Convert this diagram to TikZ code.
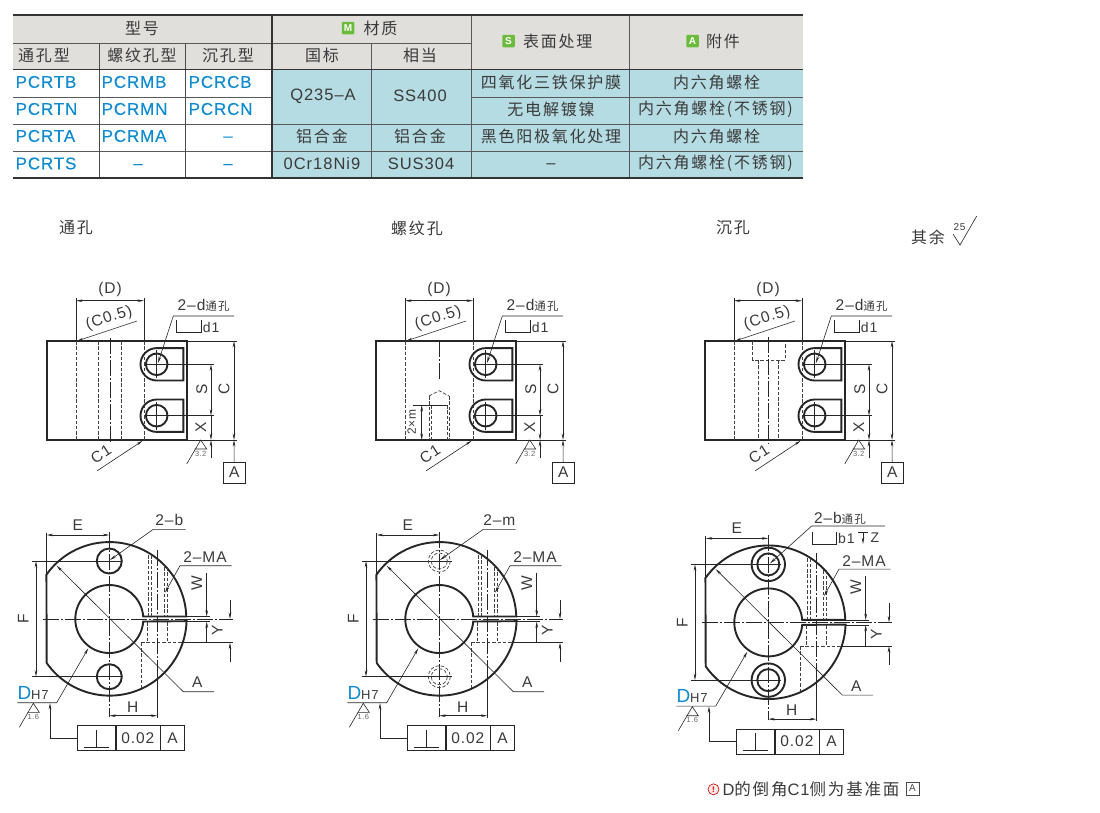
\documentclass[tikz,border=0pt]{standalone}
\usepackage{fontspec}
\usepackage{xcolor}
\setmainfont[LetterSpace=6]{Liberation Sans}
\newfontfamily\cnfont[LetterSpace=11]{Noto Sans CJK SC}
\newfontfamily\partfont[LetterSpace=5,FakeBold=0.25]{Liberation Sans}
\usetikzlibrary{arrows.meta,positioning}
\definecolor{headgray}{HTML}{E0DFDC}
\definecolor{cellteal}{HTML}{B5DCE3}
\definecolor{partblue}{HTML}{0F8BD0}
\definecolor{badgegreen}{HTML}{6CBB3C}
\definecolor{inkgray}{HTML}{3A3A3A}
\tikzstyle{outline} = [line width=1.9pt, draw=black!85]
\tikzstyle{hidden} = [line width=0.7pt, draw=black!75, dash pattern=on 3.5pt off 1.8pt]
\tikzstyle{axis} = [line width=0.55pt, draw=black!85, dash pattern=on 16pt off 2pt on 2pt off 2pt]
\tikzstyle{thinline} = [line width=0.6pt, draw=black!85]
\tikzstyle{dim} = [thinline, {Stealth[length=6.5pt,width=2.6pt]}-{Stealth[length=6.5pt,width=2.6pt]}]
\tikzstyle{arrow} = [thinline, -{Stealth[length=6.5pt,width=2.6pt]}]
\tikzstyle{txt} = [inner sep=0pt, text=inkgray, font=\fontsize{15.5}{15.5}\selectfont]
\tikzstyle{tiny} = [txt, text=black!60, font=\fontsize{7.5}{7.5}\selectfont]
\tikzstyle{cell} = [txt, font=\fontsize{16}{16}\selectfont\cnfont]
\tikzstyle{cellen} = [txt, font=\fontsize{16.5}{16.5}\selectfont]
\tikzstyle{part} = [inner sep=0pt, anchor=west, text=partblue, font=\fontsize{17}{17}\selectfont\partfont]
\tikzstyle{badge} = [inner sep=0pt, minimum size=12.5pt, rounded corners=1pt, fill=badgegreen, text=white, font=\fontsize{10}{10}\selectfont\bfseries]
\tikzstyle{frame} = [txt, draw=black!85, line width=0.6pt, minimum height=25pt]
\newcommand{\cnsmall}[1]{{\fontsize{11.5}{11.5}\cnfont #1}}
% roughness mark, apex at #1,#2
\newcommand{\roughmark}[3]{
  \draw[thinline] (#1-14,#2+24) -- (#1,#2) -- (#1+6,#2+9) -- (#1-6,#2+9);
  \node[tiny] at (#1,#2+13.5) {#3};
}
% front view, common to all three
\newcommand{\sideview}[1]{
  \draw[outline] (47,341) rectangle (186.7,440);
  \draw[hidden] (76,341) -- (76,440);
  \draw[hidden] (144,341) -- (144,440);
  \foreach \yh in {364.3,415.7} {
    \draw[outline] (183.3,\yh-16.2) -- (156.7,\yh-16.2) arc (270:90:16.2) -- (183.3,\yh+16.2) -- cycle;
    \draw[outline] (156.7,\yh) circle (10.8);
    \draw[thinline] (147,\yh) -- (214,\yh);
    \draw[thinline] (156.7,\yh-14) -- (156.7,\yh+14);
  }
  \draw[thinline] (76,298) -- (76,341);
  \draw[thinline] (144,298) -- (144,341);
  \draw[thinline] (186.7,341) -- (237,341);
  \draw[thinline] (186.7,440) -- (237,440);
  \draw[dim] (76,300.7) -- (144,300.7);
  \node[txt] (#1D) at (110,289) {(D)};
  \draw[arrow] (137,321) -- (77,341);
  \node[txt, rotate=18] (#1C) at (109,318) {(C0.5)};
  \draw[arrow] (97.3,470.7) -- (142.7,440.7);
  \node[txt, rotate=33] (#1Ca) at (101,454) {C1};
  \node[txt] (#1d) at (203.7,305) {2--d\cnsmall{通孔}};
  \draw[arrow] (234,316) -- (173.3,316) -- (158,363);
  \draw[thinline] (176,320) -- (176,332) -- (201.7,332) -- (201.7,320);
  \node[txt, anchor=west, font=\fontsize{14}{14}\selectfont] (#1da) at (202.7,327) {d1};
  \draw[dim] (211,364.3) -- (211,415.7);
  \draw[arrow] (211,415.7) -- (211,440);
  \draw[arrow] (211,458) -- (211,440);
  \node[txt, rotate=90] (#1S) at (201.7,389) {S};
  \node[txt, rotate=90] (#1X) at (200.7,427.5) {X};
  \draw[dim] (234,341) -- (234,440);
  \node[txt, rotate=90] (#1Cc) at (224,389) {C};
  \roughmark{200.7}{440}{3.2}
  \node[frame, minimum width=21.5pt, minimum height=21pt] (#1A) at (234.2,472.5) {A};
  \draw[arrow] (#1A.north) -- (234,440);
}
% bore view, common to all three
\newcommand{\boreview}[1]{
  \coordinate (#1o) at (109.3,619);
  \draw[outline] (186.3,616.5) arc (358.1:215.2:77) -- (46.7,663) arc (144.8:1.9:77) -- (143.2,621.5) arc (4.2:355.8:34) -- cycle;
  \draw[axis] (43,619) -- (233,619);
  \draw[axis] (109.3,532) -- (109.3,716.7);
  \draw[hidden] (148.3,555) -- (148.3,616);
  \draw[hidden] (151.5,555) -- (151.5,616);
  \draw[hidden] (164.3,567) -- (164.3,616);
  \draw[hidden] (167.3,567) -- (167.3,616);
  \draw[hidden] (147.7,622) -- (147.7,642.7);
  \draw[hidden] (167.7,622) -- (167.7,642.7);
  \draw[hidden] (141,642.7) -- (183,642.7);
  \draw[hidden] (141,642.7) -- (141,688);
  \draw[thinline] (183,642.7) -- (233,642.7);
  \draw[axis] (157.3,550) -- (157.3,667);
  \draw[thinline] (157.3,667) -- (157.3,717.5);
  \draw[thinline] (46.7,532.7) -- (46.7,575);
  \draw[dim] (46.7,535) -- (109.3,535);
  \node[txt] (#1E) at (77.7,525) {E};
  \draw[thinline] (31.7,561) -- (122,561);
  \draw[thinline] (31.7,676.7) -- (122,676.7);
  \draw[dim] (36,561) -- (36,676.7);
  \node[txt, rotate=90] (#1F) at (23.3,619) {F};
  \node[txt] (#1MA) at (205,557.3) {2--MA};
  \draw[arrow] (231.7,565.7) -- (180,565.7) -- (165,592.7);
  \draw[thinline] (186,616.7) -- (210,616.7);
  \draw[thinline] (186,621.5) -- (210,621.5);
  \draw[arrow] (206.7,572.7) -- (206.7,616.7);
  \draw[arrow] (206.7,642.7) -- (206.7,621.5);
  \node[txt, rotate=90] (#1W) at (196.7,583.3) {W};
  \draw[arrow] (230,600) -- (230,619);
  \draw[arrow] (230,661.7) -- (230,642.7);
  \node[txt, rotate=90] (#1Y) at (217.3,630.7) {Y};
  \draw[dim] (109.3,715.7) -- (157.3,715.7);
  \node[txt] (#1H) at (132.7,706.7) {H};
  \draw[arrow] (214,691.7) -- (183.3,691.7) -- (56.7,565.7);
  \node[txt] (#1Aa) at (197.3,682.3) {A};
  \draw[arrow] (17.3,702.7) -- (56.7,702.7) -- (88.3,648.3);
  \node[txt, anchor=west] (#1DH) at (17.3,692.7) {\textcolor{partblue}{\fontsize{19}{19}\selectfont D}\fontsize{13}{13}\selectfont H7};
  \roughmark{33.3}{703.3}{1.6}
  \node[frame, minimum width=37.6pt] (#1f) at (96.5,738.2) {};
  \node[frame, minimum width=44pt, right=0pt of #1f] (#1g) {0.02};
  \node[frame, minimum width=24pt, right=0pt of #1g] (#1h) {A};
  \draw[thinline] (84,747.3) -- (109,747.3);
  \draw[thinline] (96.7,730) -- (96.7,747.3);
  \draw[arrow] (#1f.west) -- (50,738.2) -- (50,703);
}
\begin{document}
\begin{tikzpicture}[x=1pt,y=-1pt]
\useasboundingbox (0,0) rectangle (1100,812);

% table
\fill[headgray] (13,15) rectangle (803,69.5);
\fill[cellteal] (272,69.5) rectangle (803,178);
\draw[black!65, line width=0.7pt] (13,97.5) -- (272,97.5);
\draw[black!65, line width=0.7pt] (471,97.5) -- (803,97.5);
\foreach \yl in {124,151} {
  \draw[black!65, line width=0.7pt] (13,\yl) -- (803,\yl);
}
\draw[black!65, line width=0.7pt] (13,43) -- (471,43);
\foreach \xl in {99,185.5} {
  \draw[black!70, line width=0.7pt] (\xl,43) -- (\xl,178);
}
\draw[black!65, line width=0.7pt] (371.5,43) -- (371.5,178);
\foreach \xl in {471,629} {
  \draw[black!65, line width=0.8pt] (\xl,15) -- (\xl,178);
}
\draw[black!80, line width=1.8pt] (272,15) -- (272,178);
\draw[black!80, line width=1.8pt] (13,15) -- (803,15);
\draw[black!80, line width=1.8pt] (13,69.5) -- (803,69.5);
\draw[black!80, line width=1.8pt] (13,178) -- (803,178);

\node[cell] (model) at (142,28) {型号};
\node[cell] (thru) at (44,55) {通孔型};
\node[cell] (tapped) at (142,55) {螺纹孔型};
\node[cell] (cbore) at (228,55) {沉孔型};
\node[badge] (mbadge) at (348,28) {M};
\node[cell, right=9pt of mbadge] (matl) {材质};
\node[cell] (gb) at (322,55) {国标};
\node[cell] (equiv) at (420,55) {相当};
\node[badge] (sbadge) at (508.5,41) {S};
\node[cell, right=8pt of sbadge] (surf) {表面处理};
\node[badge] (abadge) at (692.5,41) {A};
\node[cell, right=7pt of abadge] (acc) {附件};

\node[part] (rtb) at (15.5,82) {PCRTB};
\node[part] (rtn) at (15.5,109) {PCRTN};
\node[part] (rta) at (15.5,136) {PCRTA};
\node[part] (rts) at (15.5,163.5) {PCRTS};
\node[part] (rmb) at (101.5,82) {PCRMB};
\node[part] (rmn) at (101.5,109) {PCRMN};
\node[part] (rma) at (101.5,136) {PCRMA};
\node[part] (rcb) at (188.5,82) {PCRCB};
\node[part] (rcn) at (188.5,109) {PCRCN};
\node[part, anchor=center] (dasha) at (228,139) {–};
\node[part, anchor=center] (dashb) at (138,166.5) {–};
\node[part, anchor=center] (dashc) at (228,166.5) {–};

\node[cellen] (q) at (323,96) {Q235--A};
\node[cellen] (ss) at (420,96) {SS400};
\node[cell] (ala) at (322,136) {铝合金};
\node[cell] (alb) at (420,136) {铝合金};
\node[cellen] (cr) at (322,163.5) {0Cr18Ni9};
\node[cellen] (sus) at (421,163.5) {SUS304};
\node[cell] (oxide) at (551,82) {四氧化三铁保护膜};
\node[cell] (nickel) at (551,109) {无电解镀镍};
\node[cell] (anod) at (551,136) {黑色阳极氧化处理};
\node[cellen] (none) at (551,166.5) {--};
\node[cell] (bolta) at (716.7,82) {内六角螺栓};
\node[cell] (boltb) at (715.5,109) {内六角螺栓(不锈钢)};
\node[cell] (boltc) at (716.7,136) {内六角螺栓};
\node[cell] (boltd) at (715.5,163.5) {内六角螺栓(不锈钢)};

% headings
\node[cell] (heada) at (76,228) {通孔};
\node[cell] (headb) at (417,228) {螺纹孔};
\node[cell] (headc) at (733,228) {沉孔};
\node[cell] (rest) at (928,237) {其余};
\draw[thinline] (953.3,234.3) -- (960,245) -- (976.7,216);
\node[txt, font=\fontsize{10}{10}\selectfont] (restval) at (959.5,227.3) {25};

% front views
\begin{scope}
  \sideview{a}
  \draw[hidden] (98.3,341) -- (98.3,440);
  \draw[hidden] (121.7,341) -- (121.7,440);
  \draw[axis] (110,338) -- (110,443);
\end{scope}
\begin{scope}[shift={(329,0)}]
  \sideview{b}
  \draw[axis] (110,341) -- (110,380);
  \draw[hidden] (100,396) -- (100,440);
  \draw[hidden] (102,405) -- (102,440);
  \draw[hidden] (118,405) -- (118,440);
  \draw[hidden] (120,396) -- (120,440);
  \draw[hidden] (100,396) -- (110.3,390.7) -- (120,396);
  \draw[thinline] (83.7,405) -- (118,405);
  \draw[dim] (92.7,405) -- (92.7,440);
  \node[txt, rotate=90, font=\fontsize{12}{12}\selectfont] (bm) at (82.7,422) {2×m};
\end{scope}
\begin{scope}[shift={(658,0)}]
  \sideview{c}
  \draw[hidden] (94.7,341) -- (94.7,360) -- (127,360) -- (127,341);
  \draw[hidden] (100.3,360) -- (100.3,440);
  \draw[hidden] (120.3,360) -- (120.3,440);
  \draw[axis] (110.7,336.7) -- (110.7,443);
\end{scope}

% bore views
\begin{scope}
  \boreview{d}
  \draw[outline] (109.3,561) circle (12.5);
  \draw[outline] (109.3,676.7) circle (12.5);
  \node[txt] (db) at (169.3,520) {2--b};
  \draw[arrow] (185.7,529.3) -- (153.3,529.3) -- (110,560);
\end{scope}
\begin{scope}[shift={(330,0)}]
  \boreview{e}
  \foreach \yh in {561,676.7} {
    \draw[hidden] (109.3,\yh) circle (11);
    \draw[hidden] (109.3,\yh) circle (8);
  }
  \node[txt] (em) at (169.3,520) {2--m};
  \draw[arrow] (185.7,529.3) -- (153.3,529.3) -- (110,560);
\end{scope}
\begin{scope}[shift={(659,3.4)}]
  \boreview{f}
  \foreach \yh in {561,676.7} {
    \draw[outline] (109.3,\yh) circle (16.7);
    \draw[outline] (109.3,\yh) circle (11);
  }
  \node[txt] (fb) at (181,515) {2--b\cnsmall{通孔}};
  \draw[arrow] (226,522.6) -- (152.7,522.6) -- (111,560);
  \draw[thinline] (153.7,528.3) -- (153.7,540.6) -- (177,540.6) -- (177,528.3);
  \node[txt, anchor=west, font=\fontsize{14}{14}\selectfont] (fba) at (179,534.6) {b1};
  \draw[thinline] (199,528.6) -- (209,528.6);
  \draw[arrow] (204,528.6) -- (204,540.6);
  \node[txt, font=\fontsize{14}{14}\selectfont] (fz) at (216,534.6) {Z};
\end{scope}

% note
\node[circle, draw=red!80!black, fill=pink!40, line width=0.6pt, inner sep=0pt, minimum size=11pt, text=red!80!black, font=\fontsize{8}{8}\selectfont\bfseries] (warn) at (713.5,789.3) {!};
\node[txt, anchor=west, font=\fontsize{16.5}{16.5}\selectfont, right=3pt of warn] (note) {D{\cnfont 的倒角}C1{\cnfont 侧为基准面}};
\node[draw=black!70, line width=0.5pt, inner sep=0pt, minimum size=13pt, text=black!70, font=\fontsize{10}{10}\selectfont] (noteA) at (912.5,788.5) {A};
\end{tikzpicture}
\end{document}
